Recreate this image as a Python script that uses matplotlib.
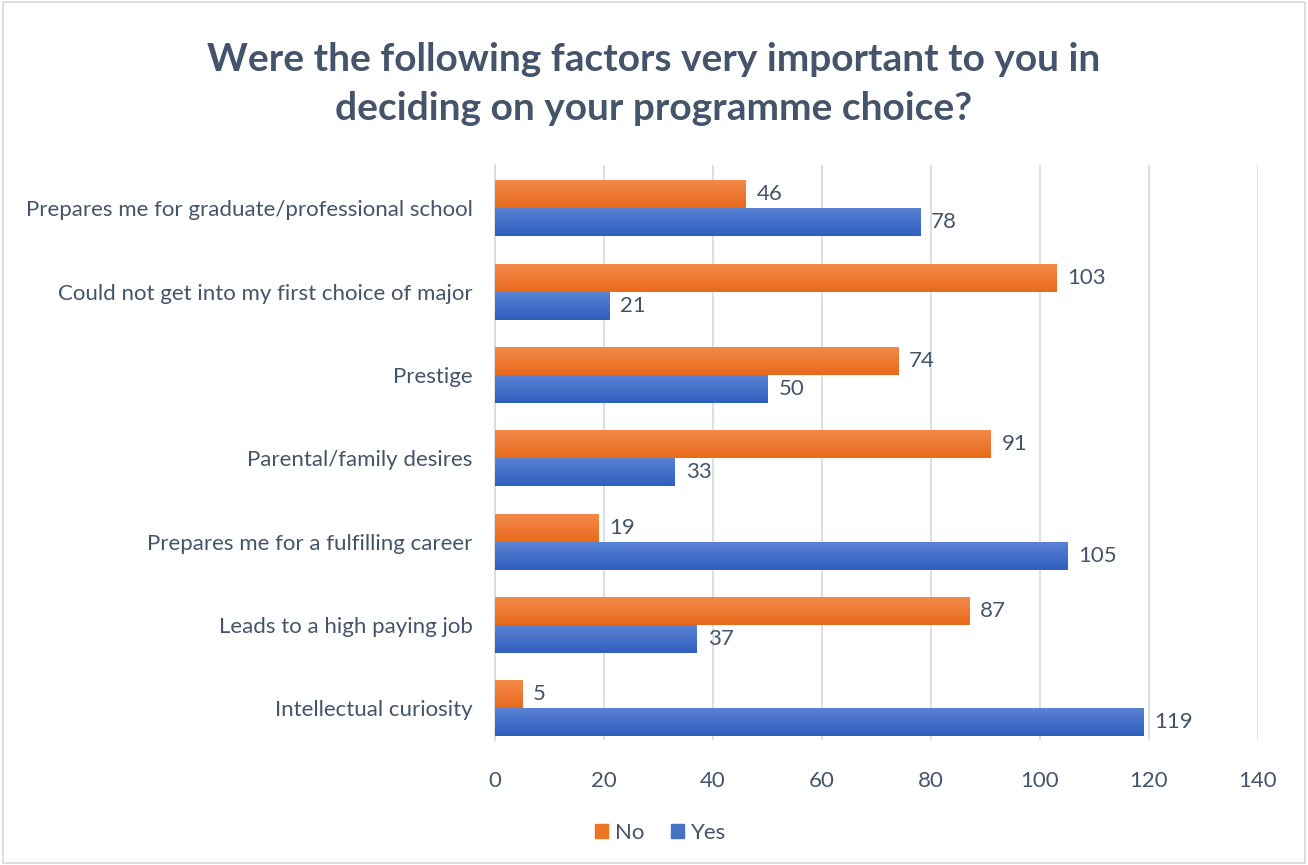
import numpy as np
import matplotlib.pyplot as plt
from matplotlib.patches import Rectangle

categories = ["Intellectual curiosity", "Leads to a high paying job",
              "Prepares me for a fulfilling career", "Parental/family desires",
              "Prestige", "Could not get into my first choice of major",
              "Prepares me for graduate/professional school"]
no_vals = [5, 87, 19, 91, 74, 103, 46]
yes_vals = [119, 37, 105, 33, 50, 21, 78]
xticks = [0, 20, 40, 60, 80, 100, 120, 140]

plt.rcParams['font.family'] = ['Lato', 'DejaVu Sans']
txt = '#44546A'

fig = plt.figure(figsize=(13.08, 8.65), dpi=100)
ax = fig.add_axes([495/1308, 1-740/865, (1258-495)/1308, (740-165)/865])

y = np.arange(len(categories))
h = 0.335

def grad_bars(ypos, vals, top, bot):
    # vertical gradient inside each bar, like the office chart
    cmap = plt.matplotlib.colors.LinearSegmentedColormap.from_list('g', [bot, top])
    grad = np.linspace(0, 1, 50).reshape(-1, 1)
    for yy, v in zip(ypos, vals):
        ax.imshow(grad, aspect='auto', cmap=cmap, origin='lower',
                  extent=[0, v, yy - h/2, yy + h/2], zorder=3)

grad_bars(y + h/2, no_vals, '#F4894A', '#E86A1A')
grad_bars(y - h/2, yes_vals, '#5A82D4', '#2F5FBF')

for yy, v in zip(y + h/2, no_vals):
    ax.text(v + 2.0, yy, str(v), va='center', ha='left', fontsize=16, color=txt)
for yy, v in zip(y - h/2, yes_vals):
    ax.text(v + 2.0, yy, str(v), va='center', ha='left', fontsize=16, color=txt)

ax.set_xlim(0, 140)
ax.set_ylim(-0.38, len(categories) - 0.48)
ax.set_xticks(xticks)
ax.set_yticks(y)
ax.set_yticklabels(categories)
ax.tick_params(axis='both', length=0, labelsize=16, labelcolor=txt)
ax.tick_params(axis='x', pad=22)
ax.tick_params(axis='y', pad=16)
ax.grid(axis='x', color='#D9D9D9', lw=1.2, zorder=0)
for s in ['top', 'right', 'bottom']:
    ax.spines[s].set_visible(False)
ax.spines['left'].set_color('#D9D9D9')
ax.spines['left'].set_linewidth(1.2)
ax.set_axisbelow(True)

fig.text(0.5, 1 - 84/865, "Were the following factors very important to you in\ndeciding on your programme choice?",
         ha='center', va='center', fontsize=28, fontweight='bold', color=txt, linespacing=1.45)

handles = [Rectangle((0, 0), 1, 1, color='#EC7525'), Rectangle((0, 0), 1, 1, color='#4472C4')]
fig.legend(handles, ['No', 'Yes'], loc='center', bbox_to_anchor=(0.505, 1 - 833/865), ncol=2,
           frameon=False, fontsize=16, labelcolor=txt, handlelength=0.6, handleheight=0.6,
           handletextpad=0.3, columnspacing=1.2)

fig.patches.append(Rectangle((0.002, 0.002), 0.996, 0.996, transform=fig.transFigure,
                             fill=False, edgecolor='#D9D9D9', lw=1.2))

fig.savefig('out.png', dpi=100)
